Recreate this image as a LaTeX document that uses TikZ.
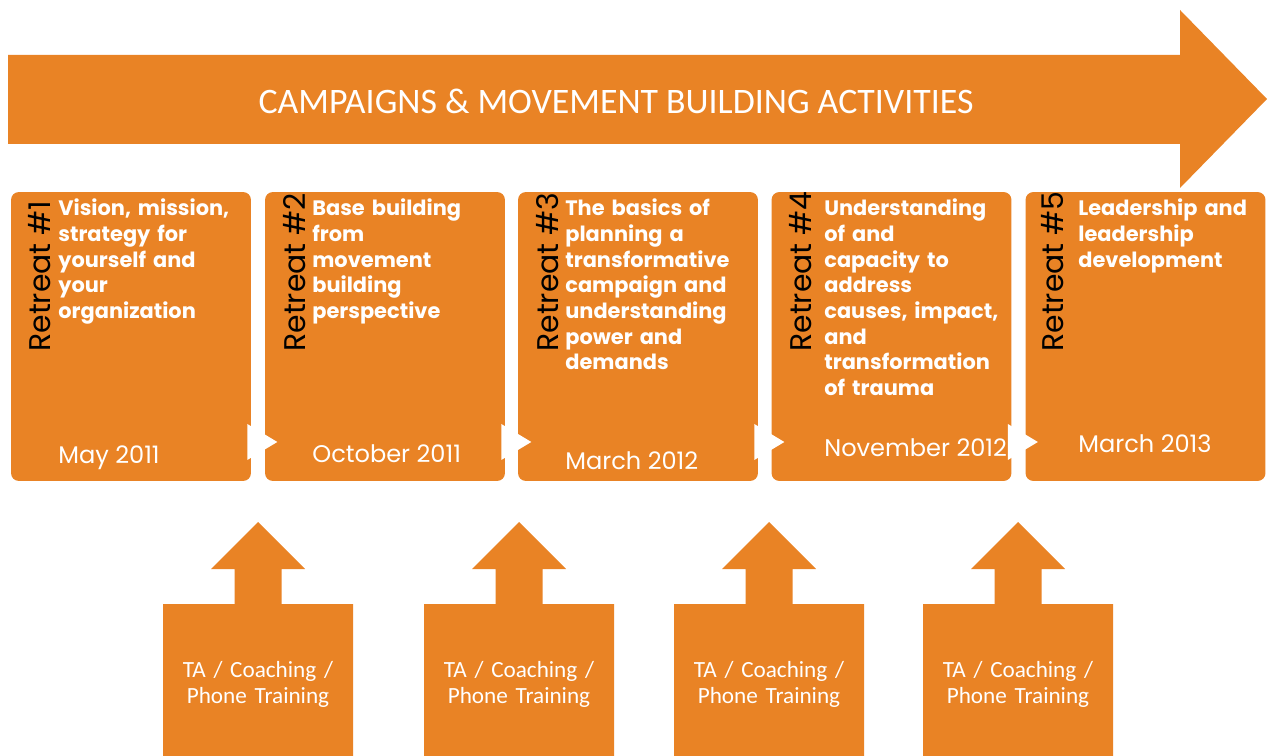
\documentclass[tikz,border=0pt]{standalone}
\usepackage{fontspec}
\setmainfont{Poppins}
\newfontfamily\calibri{Carlito}
\definecolor{orng}{RGB}{233,131,37}
\tikzset{
  box/.style={fill=orng,rounded corners=4.5pt,minimum width=4.8cm,minimum height=5.78cm,inner sep=0pt},
  retreat/.style={rotate=90,anchor=base west,inner sep=0pt,black,font=\fontsize{17}{19}\selectfont},
  topic/.style={anchor=base west,inner sep=0pt,white,text width=4cm,align=left,font=\bfseries\fontsize{11.9}{14.6}\selectfont},
  when/.style={anchor=base west,inner sep=0pt,white,font=\fontsize{13.7}{15}\selectfont},
  support/.style={anchor=base,inner sep=0pt,white,text width=4cm,align=center,font=\calibri\fontsize{13.2}{15.2}\selectfont}
}
\begin{document}
\begin{tikzpicture}[x=0.02cm,y=-0.02cm]
    \useasboundingbox (0,0) rectangle (1271,756);
    \fill[orng] (8,55) -- (1180,55) -- (1180,10) -- (1267,99) -- (1180,188) -- (1180,144) -- (8,144) -- cycle;
    \node[white,inner sep=0pt,font=\calibri\fontsize{20.4}{22}\selectfont] (head) at (616,101) {CAMPAIGNS \& MOVEMENT BUILDING ACTIVITIES};
    \node[box] (r1) at (131,336.5) {};
    \node[box] (r2) at (385,336.5) {};
    \node[box] (r3) at (638,336.5) {};
    \node[box] (r4) at (891.5,336.5) {};
    \node[box] (r5) at (1145.5,336.5) {};
    \node[retreat] (l1) at (51,352) {Retreat \#1};
    \node[retreat] (l2) at (305,352) {Retreat \#2};
    \node[retreat] (l3) at (558,352) {Retreat \#3};
    \node[retreat] (l4) at (811,352) {Retreat \#4};
    \node[retreat] (l5) at (1063,352) {Retreat \#5};
    \node[topic] (t1) at (58,216) {Vision, mission,\\strategy for\\yourself and\\your\\organization};
    \node[topic] (t2) at (312,216) {Base building\\from\\movement\\building\\perspective};
    \node[topic] (t3) at (565,216) {The basics of\\planning a\\transformative\\campaign and\\understanding\\power and\\demands};
    \node[topic] (t4) at (824,216) {Understanding\\of and\\capacity to\\address\\causes, impact,\\and\\transformation\\of trauma};
    \node[topic] (t5) at (1078,216) {Leadership and\\leadership\\development};
    \node[when] (d1) at (58,464) {May 2011};
    \node[when] (d2) at (312,463) {October 2011};
    \node[when] (d3) at (565,470) {March 2012};
    \node[when] (d4) at (824,457) {November 2012};
    \node[when] (d5) at (1078,453) {March 2013};
    \fill[white] (r1.east) ++(-4,87.5) -- ++(0,36) -- ++(30,-18) -- cycle;
    \fill[white] (r2.east) ++(-4,87.5) -- ++(0,36) -- ++(30,-18) -- cycle;
    \fill[white] (r3.east) ++(-4,87.5) -- ++(0,36) -- ++(30,-18) -- cycle;
    \fill[white] (r4.east) ++(-4,87.5) -- ++(0,36) -- ++(30,-18) -- cycle;
    \fill[orng] (163,756) -- ++(0,-152) -- ++(71.5,0) -- ++(0,-35) -- ++(-23.5,0) -- ++(47,-47) -- ++(47,47) -- ++(-23.5,0) -- ++(0,35) -- ++(71.5,0) -- ++(0,152) -- cycle;
    \fill[orng] (424,756) -- ++(0,-152) -- ++(71.5,0) -- ++(0,-35) -- ++(-23.5,0) -- ++(47,-47) -- ++(47,47) -- ++(-23.5,0) -- ++(0,35) -- ++(71.5,0) -- ++(0,152) -- cycle;
    \fill[orng] (674,756) -- ++(0,-152) -- ++(71.5,0) -- ++(0,-35) -- ++(-23.5,0) -- ++(47,-47) -- ++(47,47) -- ++(-23.5,0) -- ++(0,35) -- ++(71.5,0) -- ++(0,152) -- cycle;
    \fill[orng] (923,756) -- ++(0,-152) -- ++(71.5,0) -- ++(0,-35) -- ++(-23.5,0) -- ++(47,-47) -- ++(47,47) -- ++(-23.5,0) -- ++(0,35) -- ++(71.5,0) -- ++(0,152) -- cycle;
    \node[support] (s1) at (258,677) {TA / Coaching /\\Phone Training};
    \node[support] (s2) at (519,677) {TA / Coaching /\\Phone Training};
    \node[support] (s3) at (769,677) {TA / Coaching /\\Phone Training};
    \node[support] (s4) at (1018,677) {TA / Coaching /\\Phone Training};
\end{tikzpicture}
\end{document}
